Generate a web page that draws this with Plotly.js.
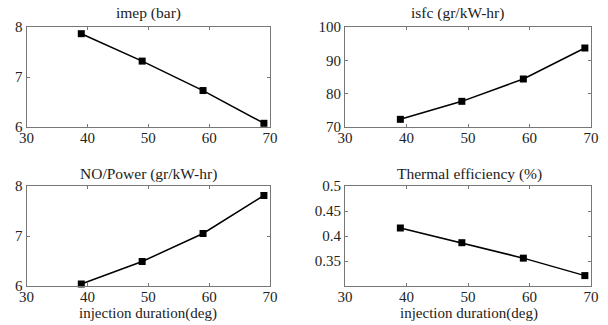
<!DOCTYPE html>
<html>
<head>
<meta charset="utf-8">
<script src="https://cdn.plot.ly/plotly-3.0.1.min.js"></script>
<style>html,body{margin:0;padding:0;background:#fff;}#chart{width:608px;height:325px;}</style>
</head>
<body>
<div id="chart"></div>
<script>
const injectionDuration = [39, 49, 59, 69];
const imep = [7.866, 7.318, 6.729, 6.074];
const isfc = [72.3, 77.7, 84.4, 93.7];
const noPower = [6.04, 6.49, 7.05, 7.81];
const thermalEff = [0.416, 0.3866, 0.3557, 0.3208];
const panelTitles = ['imep (bar)', 'isfc (gr/kW-hr)', 'NO/Power (gr/kW-hr)', 'Thermal efficiency (%)'];
const xLabel = 'injection duration(deg)';
const xTicks = [30, 40, 50, 60, 70];

const FONT = 'Liberation Serif, DejaVu Serif, serif';
const series = [imep, isfc, noPower, thermalEff];
const axIds = [['x','y'],['x2','y2'],['x3','y3'],['x4','y4']];
const traces = series.map((s, i) => ({
  x: injectionDuration, y: s, xaxis: axIds[i][0], yaxis: axIds[i][1],
  type: 'scatter', mode: 'lines+markers',
  line: {color: '#000', width: 1.5},
  marker: {symbol: 'square', size: 7, color: '#000'},
  showlegend: false, cliponaxis: false
}));

const W = 608, H = 325;
const xd = [[26.5/W, 270/W], [345/W, 591/W]];
const yd = [[(H-127)/H, (H-27)/H], [(H-286)/H, (H-186)/H]];

function xa(dom, anchor) {
  return {domain: dom, anchor: anchor, range: [30, 70], tickvals: xTicks, ticktext: xTicks.map(String),
    ticks: 'inside', ticklen: 3, tickcolor: '#777', mirror: 'allticks', showline: true, linecolor: '#777', linewidth: 1,
    showgrid: false, zeroline: false, tickfont: {family: FONT, size: 15, color: '#222'}, ticklabelstandoff: -3};
}
function ya(dom, anchor, range, tv) {
  return {domain: dom, anchor: anchor, range: range, tickvals: tv, ticktext: tv.map(String),
    ticks: 'inside', ticklen: 3, tickcolor: '#777', mirror: 'allticks', showline: true, linecolor: '#777', linewidth: 1,
    showgrid: false, zeroline: false, tickfont: {family: FONT, size: 15, color: '#222'}, ticklabelstandoff: 0};
}

const layout = {
  width: W, height: H, margin: {l: 0, r: 0, t: 0, b: 0},
  paper_bgcolor: '#fff', plot_bgcolor: '#fff',
  xaxis: xa(xd[0], 'y'), yaxis: ya(yd[0], 'x', [6, 8], [6, 7, 8]),
  xaxis2: xa(xd[1], 'y2'), yaxis2: ya(yd[0], 'x2', [70, 100], [70, 80, 90, 100]),
  xaxis3: xa(xd[0], 'y3'), yaxis3: ya(yd[1], 'x3', [6, 8], [6, 7, 8]),
  xaxis4: xa(xd[1], 'y4'), yaxis4: ya(yd[1], 'x4', [0.3, 0.5], [0.35, 0.4, 0.45, 0.5]),
  annotations: [
    {text: panelTitles[0], x: 148/W, y: 1-13/H},
    {text: panelTitles[1], x: 457/W, y: 1-13/H},
    {text: panelTitles[2], x: 148/W, y: 1-174/H},
    {text: panelTitles[3], x: 469/W, y: 1-174/H},
    {text: xLabel, x: 148/W, y: 1-313/H, size: 15},
    {text: xLabel, x: 469/W, y: 1-313/H, size: 15}
  ].map(a => ({xref: 'paper', yref: 'paper', showarrow: false, xanchor: 'center', yanchor: 'middle',
    text: a.text, x: a.x, y: a.y, font: {family: FONT, size: a.size || 15.5, color: '#222'}}))
};

Plotly.newPlot('chart', traces, layout, {displayModeBar: false, staticPlot: true});
</script>
</body>
</html>
